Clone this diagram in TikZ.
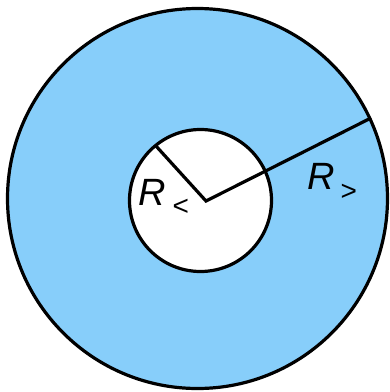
\documentclass[tikz,border=0pt]{standalone}
\usepackage{fontspec}
\setmainfont{Liberation Sans}
\usetikzlibrary{positioning}
\definecolor{skyfill}{RGB}{135,206,250}
\newcommand{\rsubfont}{\fontsize{28}{28}\selectfont\upshape}

\begin{document}
\begin{tikzpicture}[
  x=1pt, y=-1pt,
  ring/.style={draw=black, line width=3.2pt},
  rlabel/.style={inner sep=0pt, anchor=base west, font=\fontsize{38}{38}\selectfont\itshape}
]
  \useasboundingbox (0,0) rectangle (390,392);
  \draw[ring, fill=skyfill] (197.5,198.5) circle[radius=190pt];
  \draw[ring, fill=white] (200.5,200.5) circle[radius=71pt];
  \coordinate (ctr) at (206,201);
  \coordinate (inpt) at (156,146);
  \coordinate (outpt) at (371,118);
  \draw[ring] (inpt) -- (ctr) -- (outpt);
  \node[rlabel] (rsmall) at (138,205) {R\hspace{7pt}\raisebox{-10pt}{\rsubfont <}};
  \node[rlabel] (rbig) at (307,189) {R\hspace{6pt}\raisebox{-11pt}{\rsubfont >}};
\end{tikzpicture}
\end{document}
